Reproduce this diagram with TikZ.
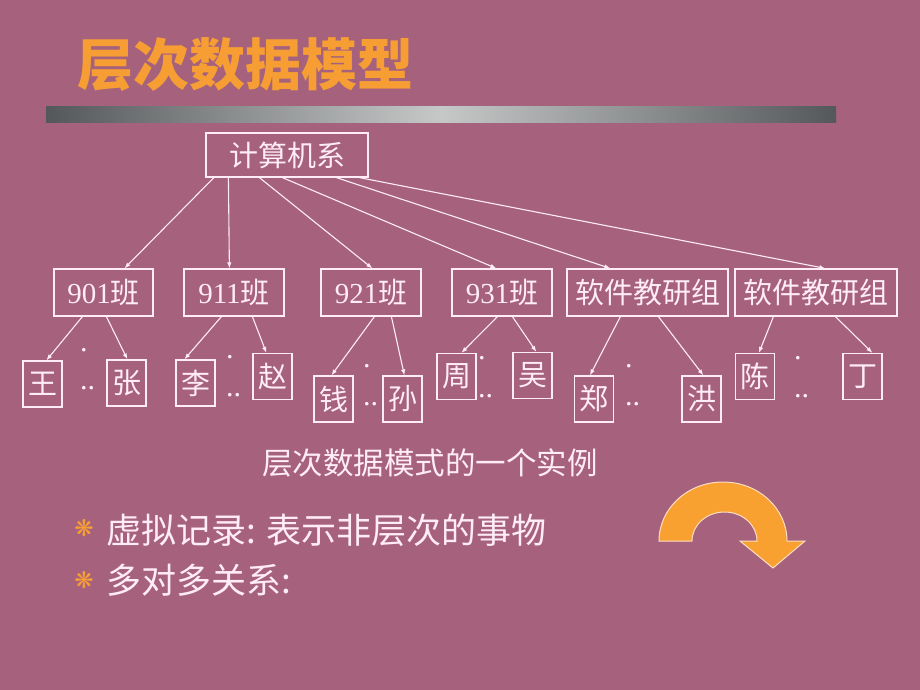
\documentclass[tikz,border=0pt]{standalone}
\usepackage{fontspec}
\setmainfont{Noto Sans CJK SC}
\newfontfamily\latinfont{Liberation Serif}
\newfontfamily\symfont{DejaVu Sans}
\usetikzlibrary{arrows.meta}
\definecolor{slide}{RGB}{166,98,125}
\definecolor{chalk}{RGB}{255,236,244}
\definecolor{titleorange}{RGB}{246,158,52}
\definecolor{bardark}{RGB}{85,88,90}
\definecolor{barlight}{RGB}{198,200,200}
\definecolor{arrowfill}{RGB}{248,160,48}
\definecolor{arrowrim}{RGB}{255,222,196}
\tikzset{box/.style = {draw = chalk, line width = 1.2pt, text = chalk, inner sep = 0,
                       minimum height = 47, font = \fontsize{29}{34}\selectfont}}
\tikzset{leaf/.style = {box, minimum width = 39, minimum height = 46}}
\tikzset{link/.style = {draw = chalk, line width = 1.1pt, -{Latex[length=6pt, width=4.5pt]}}}
\tikzset{dots/.style = {text = chalk, inner sep = 0, align = left, anchor = base west,
                        font = \latinfont\fontsize{30}{38}\selectfont}}
\tikzset{bullet/.style = {text = titleorange, font = \symfont\fontsize{23}{23}\selectfont}}

\begin{document}
\begin{tikzpicture}[x = 1pt, y = 1pt]
  \useasboundingbox (0, 0) rectangle (920, -690);
  \fill [slide] (0, 0) rectangle (920, -690);

  \node [anchor = west, text = titleorange, inner sep = 0,
         font = \bfseries\fontsize{56}{60}\selectfont] (title) at (77, -65) {层次数据模型};
  \shade [left color = bardark, right color = bardark, middle color = barlight]
    (46, -107) rectangle (836, -123);

  % root and second level
  \node [box, minimum width = 162, minimum height = 44] (root) at (287, -155) {计算机系};
  \node [box, minimum width = 99] (c901) at (103.5, -292.5) {{\latinfont 901}班};
  \node [box, minimum width = 100] (c911) at (234, -292.5) {{\latinfont 911}班};
  \node [box, minimum width = 100] (c921) at (371, -292.5) {{\latinfont 921}班};
  \node [box, minimum width = 100] (c931) at (502, -292.5) {{\latinfont 931}班};
  \node [box, minimum width = 161] (grpa) at (647.5, -292.5) {软件教研组};
  \node [box, minimum width = 162] (grpb) at (816, -292.5) {软件教研组};

  \draw [link] ([xshift = 8.5]root.south west) -- ([xshift = 71]c901.north west);
  \draw [link] ([xshift = 23]root.south west) -- ([xshift = 46]c911.north west);
  \draw [link] ([xshift = 54]root.south west) -- ([xshift = 52]c921.north west);
  \draw [link] ([xshift = 77]root.south west) -- ([xshift = 45]c931.north west);
  \draw [link] ([xshift = 131]root.south west) -- ([xshift = 44]grpa.north west);
  \draw [link] ([xshift = 154]root.south west) -- ([xshift = 91]grpb.north west);

  % leaves
  \node [leaf] (wang) at (42.5, -384) {王};
  \node [leaf] (zhang) at (126.5, -383) {张};
  \node [leaf] (li) at (195.5, -383) {李};
  \node [leaf] (zhao) at (272.5, -376.5) {赵};
  \node [leaf] (qian) at (333.5, -399) {钱};
  \node [leaf] (sun) at (402.5, -399) {孙};
  \node [leaf] (zhou) at (456.5, -376.5) {周};
  \node [leaf] (wu) at (532.5, -375.5) {吴};
  \node [leaf] (zheng) at (594, -399) {郑};
  \node [leaf] (hong) at (701.5, -399) {洪};
  \node [leaf] (chen) at (755, -376.5) {陈};
  \node [leaf] (ding) at (862.5, -376.5) {丁};

  \draw [link] ([xshift = 29]c901.south west) -- ([xshift = 24]wang.north west);
  \draw [link] ([xshift = 53]c901.south west) -- ([xshift = 21]zhang.north west);
  \draw [link] ([xshift = 38]c911.south west) -- ([xshift = 9]li.north west);
  \draw [link] ([xshift = 69]c911.south west) -- ([xshift = 14]zhao.north west);
  \draw [link] ([xshift = 54]c921.south west) -- ([xshift = 18]qian.north west);
  \draw [link] ([xshift = 71]c921.south west) -- ([xshift = 22]sun.north west);
  \draw [link] ([xshift = 46]c931.south west) -- ([xshift = 25]zhou.north west);
  \draw [link] ([xshift = 61]c931.south west) -- ([xshift = 24]wu.north west);
  \draw [link] ([xshift = 54]grpa.south west) -- ([xshift = 16]zheng.north west);
  \draw [link] ([xshift = 92]grpa.south west) -- ([xshift = 22]hong.north west);
  \draw [link] ([xshift = 39]grpb.south west) -- ([xshift = 24]chen.north west);
  \draw [link] ([xshift = 101]grpb.south west) -- ([xshift = 30]ding.north west);

  \node [dots] (dwz) at (80, -389) {.\\..};
  \node [dots] (dlz) at (226, -396) {.\\..};
  \node [dots] (dqs) at (363, -405) {.\\..};
  \node [dots] (dzw) at (478, -397) {.\\..};
  \node [dots] (dzh) at (625, -405) {.\\..};
  \node [dots] (dcd) at (794, -397) {.\\..};

  \node [text = chalk, font = \fontsize{30.5}{35}\selectfont] (caption) at (430, -463)
    {层次数据模式的一个实例};

  % bullets
  \node [bullet] (b1) at (84, -528) {❋};
  \node [anchor = west, inner sep = 0, text = chalk, font = \fontsize{35}{40}\selectfont]
    (virt) at (106, -530) {虚拟记录: 表示非层次的事物};
  \node [bullet] (b2) at (84, -580) {❋};
  \node [anchor = west, inner sep = 0, text = chalk, font = \fontsize{35}{40}\selectfont]
    (many) at (106, -580) {多对多关系:};

  \filldraw [fill = arrowfill, draw = arrowrim, line width = 1pt]
    (659, -541) arc [start angle = 180, end angle = 0, x radius = 64, y radius = 59]
    -- (805, -541) -- (773, -568) -- (740, -541) -- (757, -541)
    arc [start angle = 0, end angle = 180, x radius = 32.5, y radius = 29] -- cycle;
\end{tikzpicture}
\end{document}
